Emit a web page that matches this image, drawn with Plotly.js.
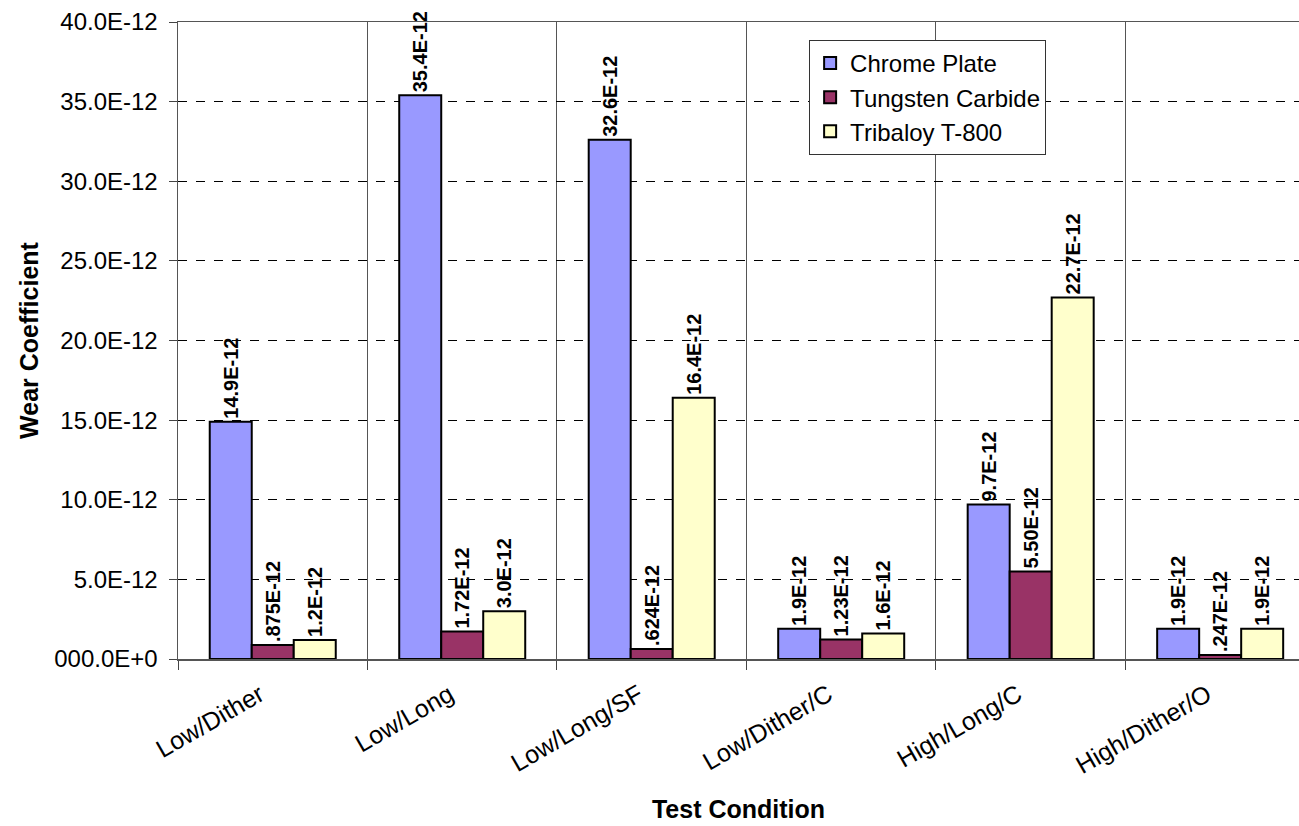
<!DOCTYPE html>
<html><head><meta charset="utf-8">
<script src="https://cdn.plot.ly/plotly-3.0.1.min.js"></script>
<style>body{margin:0;padding:0;background:#fff}#c{width:1299px;height:826px}</style>
</head><body><div id="c"></div>
<script>
const categories = ["Low/Dither","Low/Long","Low/Long/SF","Low/Dither/C","High/Long/C","High/Dither/O"];
const chromePlate = [14.9e-12, 35.4e-12, 32.6e-12, 1.9e-12, 9.7e-12, 1.9e-12];
const tungstenCarbide = [0.875e-12, 1.72e-12, 0.624e-12, 1.23e-12, 5.50e-12, 0.247e-12];
const tribaloy = [1.2e-12, 3.0e-12, 16.4e-12, 1.6e-12, 22.7e-12, 1.9e-12];
const chromeLabels = ["14.9E-12","35.4E-12","32.6E-12","1.9E-12","9.7E-12","1.9E-12"];
const tungstenLabels = [".875E-12","1.72E-12",".624E-12","1.23E-12","5.50E-12",".247E-12"];
const tribaloyLabels = ["1.2E-12","3.0E-12","16.4E-12","1.6E-12","22.7E-12","1.9E-12"];
const yTickVals = [0,5e-12,10e-12,15e-12,20e-12,25e-12,30e-12,35e-12,40e-12];
const yTickText = ["000.0E+0","5.0E-12","10.0E-12","15.0E-12","20.0E-12","25.0E-12","30.0E-12","35.0E-12","40.0E-12"];

const font = "Liberation Sans, Arial, sans-serif";
function tr(name, y, txt, color){
  return {type:"bar", name:name, x:categories, y:y, text:txt,
    texttemplate:"%{text}\u00a0",
    textposition:"outside", textangle:-90, cliponaxis:false, constraintext:"none",
    textfont:{family:font, size:20, color:"#000", weight:"bold"},
    marker:{color:color, line:{color:"#000", width:2}}, hoverinfo:"none"};
}
const data = [
  tr("Chrome Plate", chromePlate, chromeLabels, "#9999FF"),
  tr("Tungsten Carbide", tungstenCarbide, tungstenLabels, "#993366"),
  tr("Tribaloy T-800", tribaloy, tribaloyLabels, "#FFFFCC")
];
const layout = {
  width:1299, height:826,
  margin:{l:178, r:0, t:22, b:167},
  paper_bgcolor:"#fff", plot_bgcolor:"#fff",
  barmode:"group", bargap:0.335, bargroupgap:0,
  font:{family:font, color:"#000"},
  showlegend:true,
  legend:{x:0.563, y:0.972, xanchor:"left", yanchor:"top", bgcolor:"#fff",
    bordercolor:"#333", borderwidth:1, font:{family:font, size:24},
    itemwidth:20},
  xaxis:{range:[-0.5, 5.416], tickson:"boundaries", ticks:"outside", ticklen:9,
    tickcolor:"#444", showgrid:true, gridcolor:"#555", gridwidth:1,
    showline:true, linecolor:"#555", linewidth:1.5, mirror:true,
    tickangle:-30, tickfont:{family:font, size:25}, automargin:false,
    ticklabelstandoff:10, ticklabelshift:-13,
    title:{text:"Test Condition", font:{family:font, size:25, weight:"bold"}, standoff:22}},
  yaxis:{range:[0,40e-12], tickvals:yTickVals, ticktext:yTickText,
    ticks:"outside", ticklen:8, tickcolor:"#444", automargin:false,
    ticklabelstandoff:6,
    showgrid:true, gridcolor:"#000", griddash:"dash", gridwidth:1,
    showline:true, linecolor:"#555", linewidth:1.5, zeroline:false,
    tickfont:{family:font, size:24},
    title:{text:"Wear Coefficient", font:{family:font, size:25, weight:"bold"}, standoff:8}}
};
Plotly.newPlot("c", data, layout, {staticPlot:true, displayModeBar:false});
</script>
</body></html>
